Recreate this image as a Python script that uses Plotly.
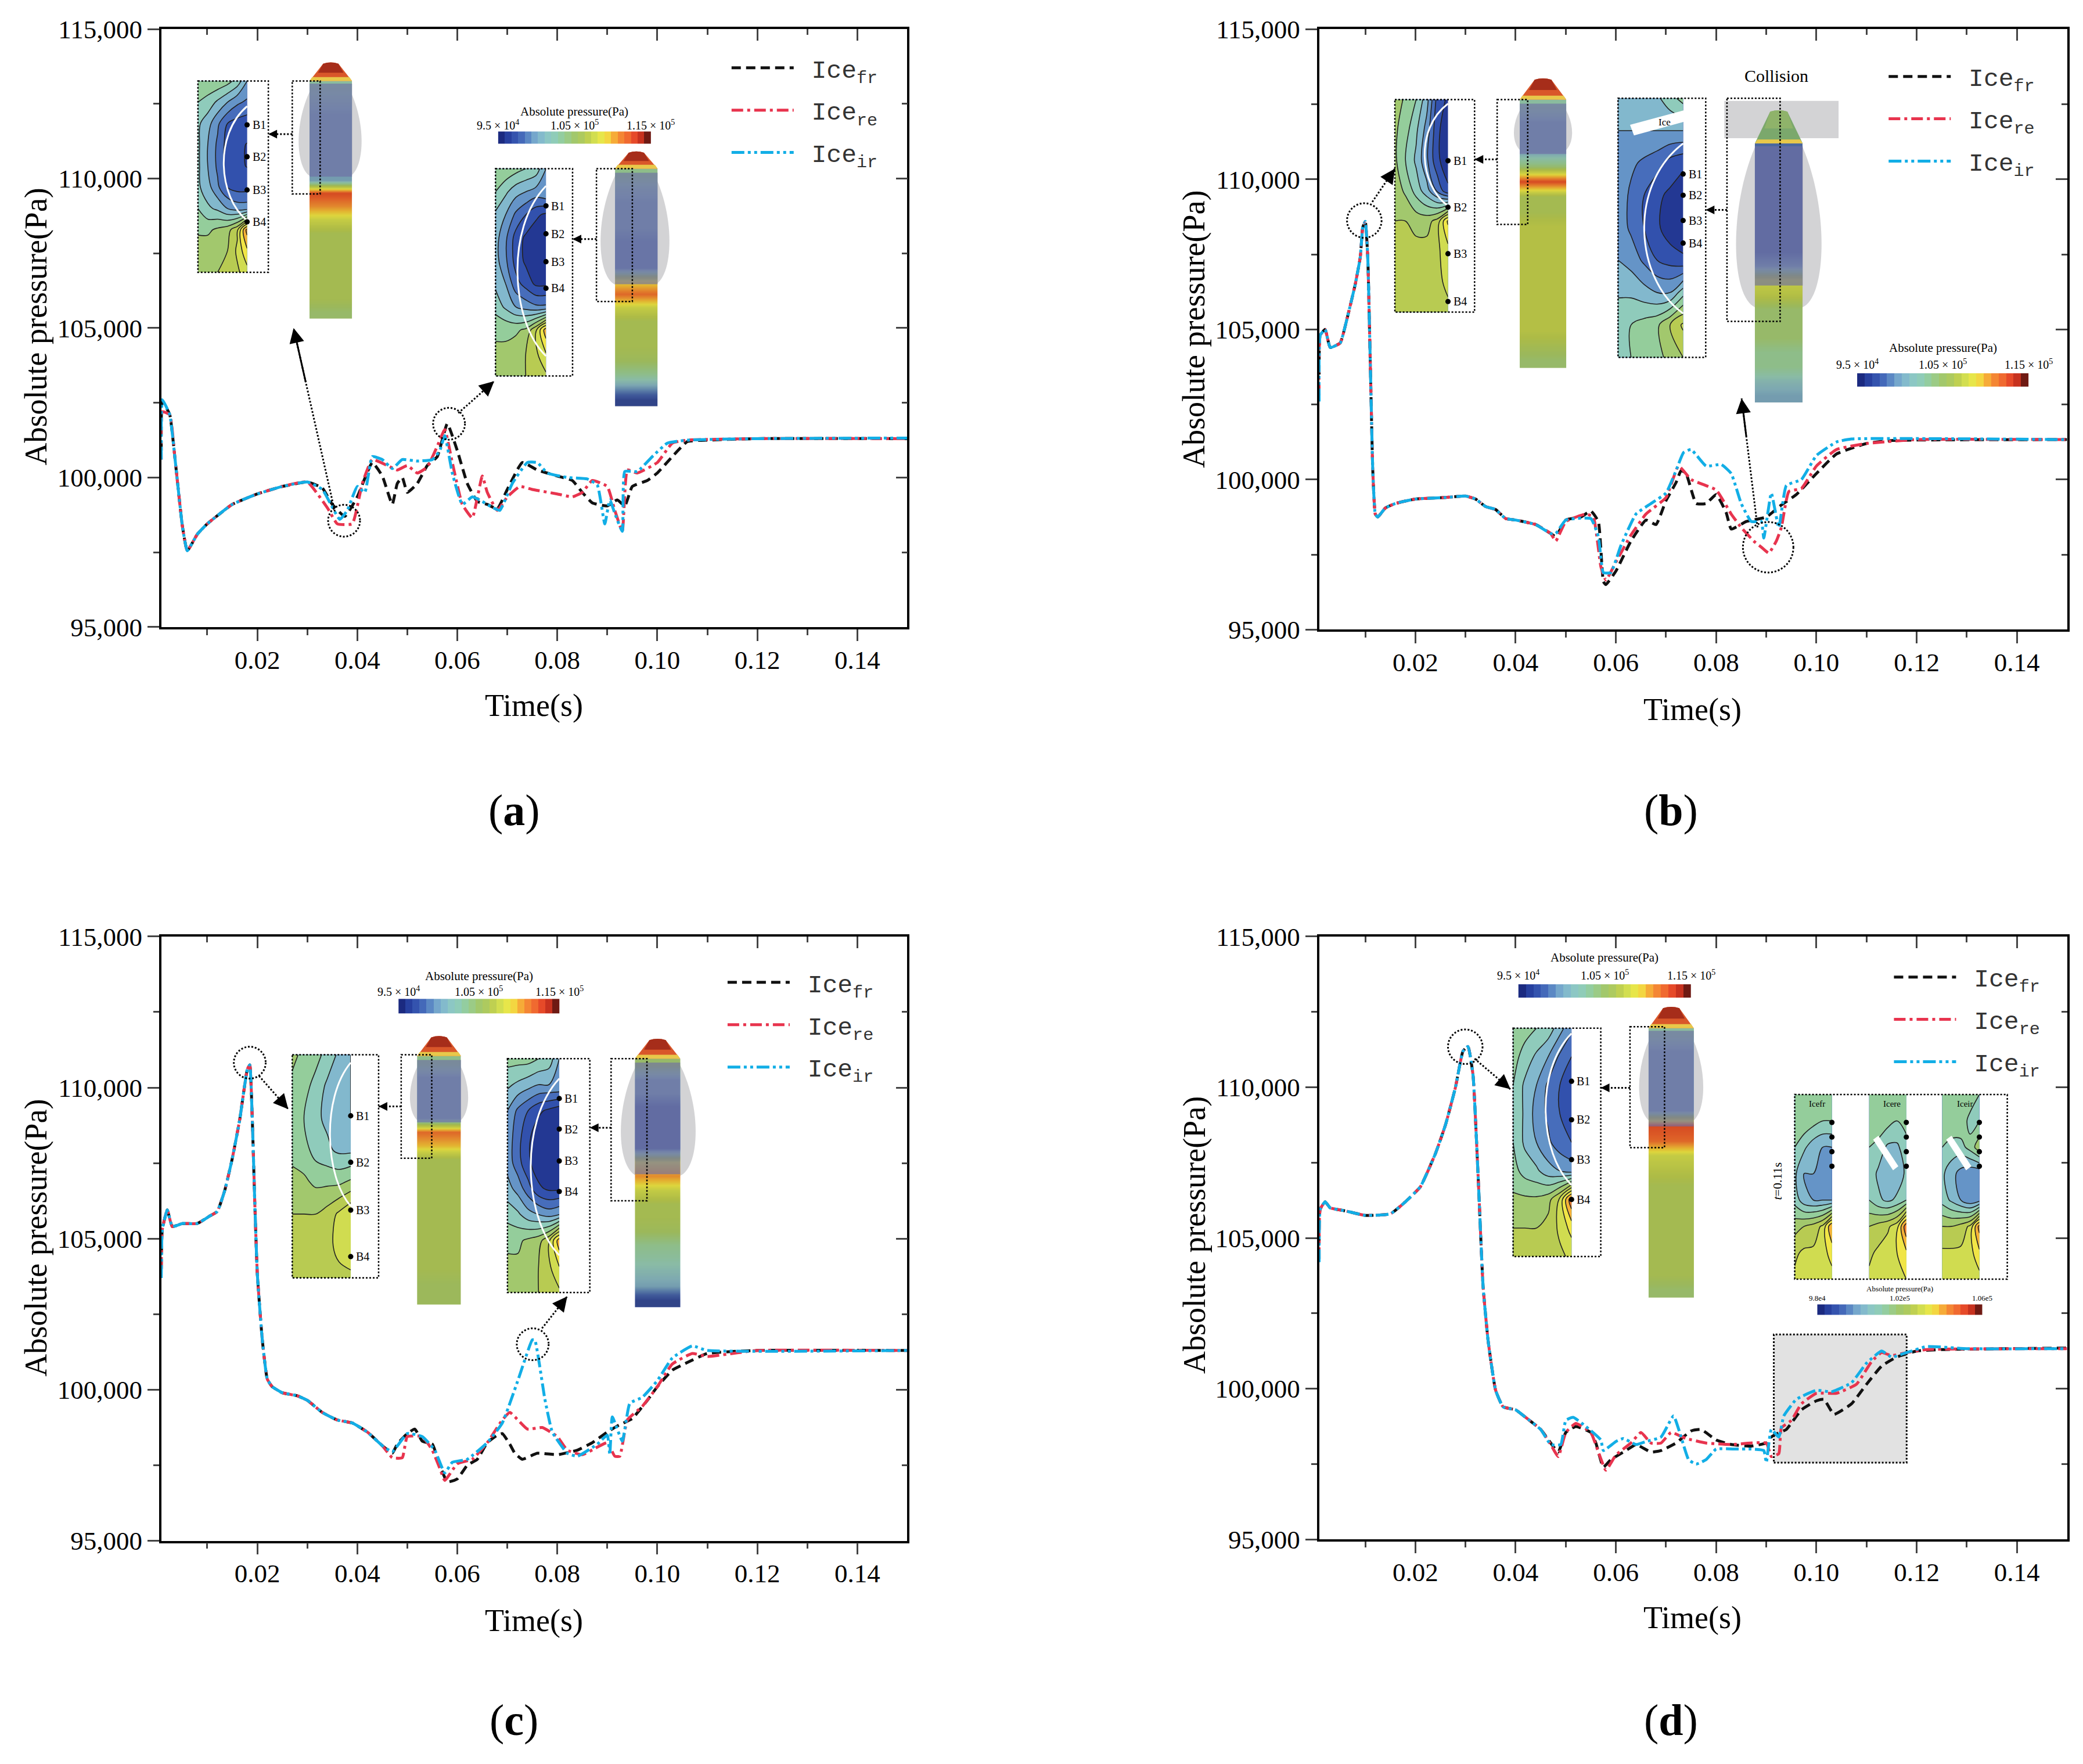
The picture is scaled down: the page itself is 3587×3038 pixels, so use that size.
import numpy as np
import plotly.graph_objects as go

W, H = 3587, 3038
SHEET_W, SHEET_H = 1568, 1328
SERIF = "Liberation Serif"
COLORS = {"fr": "#111111", "re": "#e8344e", "ir": "#12aee6"}
DASHES = {"fr": "16px,9px", "re": "20px,7px,5px,7px", "ir": "22px,6px,5px,6px,5px,6px"}

# ---- curves: time in s, pressure in kPa
a_head_t = [0.0025, 0.0035, 0.005, 0.006, 0.008, 0.01, 0.015, 0.02, 0.025, 0.03]
a_head_p = [102.1, 100.7, 98.4, 97.55, 98.1, 98.45, 99.1, 99.45, 99.7, 99.85]
a_fr_t = [0.0008, 0.001] + a_head_t + [0.033, 0.035, 0.0375, 0.04, 0.043, 0.045, 0.047, 0.048, 0.049, 0.05, 0.052, 0.054, 0.056, 0.058, 0.06, 0.062, 0.064, 0.066, 0.068, 0.07, 0.073, 0.076, 0.08, 0.083, 0.085, 0.087, 0.09, 0.092, 0.0935, 0.095, 0.098, 0.1, 0.103, 0.106, 0.11, 0.12, 0.15]
a_fr_p = [100.9, 102.55] + a_head_p + [99.65, 99.1, 98.7, 99.35, 100.5, 100.05, 99.1, 99.8, 100.0, 99.5, 99.8, 100.4, 100.7, 101.8, 100.9, 99.8, 99.2, 99.1, 98.95, 99.6, 100.5, 100.25, 100.05, 99.9, 99.5, 99.15, 99.05, 99.25, 99.05, 99.7, 99.9, 100.15, 100.7, 101.2, 101.25, 101.3, 101.3]
a_re_t = [0.0008, 0.001] + a_head_t + [0.034, 0.036, 0.039, 0.041, 0.043, 0.046, 0.048, 0.05, 0.052, 0.054, 0.056, 0.0575, 0.059, 0.061, 0.063, 0.065, 0.066, 0.068, 0.07, 0.0725, 0.075, 0.08, 0.083, 0.085, 0.087, 0.09, 0.0915, 0.093, 0.094, 0.096, 0.1, 0.103, 0.106, 0.12, 0.15]
a_re_p = [100.6, 102.2] + a_head_p + [98.99, 98.45, 98.45, 99.8, 100.6, 100.4, 100.25, 100.4, 100.15, 100.35, 101.05, 101.6, 100.5, 99.1, 98.65, 100.05, 99.5, 98.9, 99.35, 99.7, 99.6, 99.45, 99.35, 99.5, 99.9, 99.7, 98.9, 98.2, 100.25, 100.15, 100.5, 101.15, 101.25, 101.3, 101.3]
a_ir_t = [0.0008, 0.001] + a_head_t + [0.033, 0.0365, 0.038, 0.04, 0.0415, 0.043, 0.045, 0.047, 0.049, 0.052, 0.055, 0.0565, 0.0575, 0.059, 0.061, 0.063, 0.065, 0.067, 0.0685, 0.071, 0.074, 0.076, 0.078, 0.082, 0.086, 0.088, 0.0895, 0.0905, 0.0915, 0.093, 0.0935, 0.096, 0.099, 0.102, 0.106, 0.12, 0.15]
a_ir_p = [100.6, 102.6] + a_head_p + [99.6, 98.6, 98.9, 99.7, 99.5, 100.7, 100.6, 100.3, 100.6, 100.55, 100.6, 100.9, 101.4, 100.15, 99.1, 99.35, 99.2, 99.0, 98.9, 99.8, 100.5, 100.5, 100.15, 100.0, 99.95, 99.75, 98.45, 99.25, 98.8, 98.2, 100.2, 100.2, 100.7, 101.15, 101.25, 101.3, 101.32]

b_head_t = [0.001, 0.002, 0.003, 0.005, 0.0065, 0.008, 0.009, 0.0095, 0.01, 0.0105, 0.011, 0.0115, 0.012, 0.0125, 0.014, 0.016, 0.02, 0.026, 0.03, 0.032, 0.034, 0.036, 0.038, 0.04, 0.044, 0.047]
b_head_p = [104.8, 105.0, 104.4, 104.55, 105.45, 106.5, 107.4, 108.4, 108.6, 107.4, 103.9, 100.3, 98.85, 98.75, 99.05, 99.2, 99.35, 99.4, 99.45, 99.35, 99.1, 99.0, 98.7, 98.65, 98.5, 98.2]
b_fr_t = [0.0008] + b_head_t + [0.048, 0.05, 0.053, 0.055, 0.0565, 0.0575, 0.058, 0.06, 0.063, 0.066, 0.068, 0.07, 0.072, 0.073, 0.074, 0.076, 0.078, 0.08, 0.082, 0.083, 0.086, 0.09, 0.093, 0.096, 0.1, 0.104, 0.11, 0.115, 0.15]
b_fr_p = [103.5] + b_head_p + [98.1, 98.65, 98.75, 98.95, 98.6, 96.6, 96.5, 96.95, 97.95, 98.65, 98.5, 99.3, 99.9, 100.3, 100.2, 99.2, 99.2, 99.5, 98.9, 98.35, 98.6, 98.75, 99.15, 99.5, 100.2, 100.85, 101.2, 101.3, 101.33]
b_re_t = [0.0008] + b_head_t + [0.048, 0.05, 0.054, 0.0555, 0.057, 0.058, 0.06, 0.063, 0.066, 0.07, 0.0725, 0.075, 0.08, 0.083, 0.085, 0.0875, 0.089, 0.0905, 0.092, 0.093, 0.0945, 0.097, 0.1, 0.104, 0.11, 0.12, 0.15]
b_re_p = [102.8] + b_head_p + [97.95, 98.6, 98.85, 98.75, 97.1, 96.65, 97.25, 98.15, 98.85, 99.4, 100.45, 100.0, 99.65, 98.85, 98.4, 97.95, 97.75, 97.55, 97.95, 98.4, 99.6, 99.7, 100.45, 101.0, 101.2, 101.33, 101.33]
b_ir_t = [0.0008] + b_head_t + [0.048, 0.05, 0.055, 0.0565, 0.0575, 0.059, 0.061, 0.064, 0.067, 0.07, 0.072, 0.0735, 0.075, 0.078, 0.081, 0.083, 0.085, 0.087, 0.089, 0.0895, 0.091, 0.0925, 0.094, 0.097, 0.1, 0.104, 0.107, 0.15]
b_ir_p = [102.6] + b_head_p + [98.2, 98.65, 98.7, 98.1, 96.9, 96.9, 97.8, 98.85, 99.2, 99.55, 100.3, 100.9, 101.0, 100.45, 100.5, 100.2, 99.2, 98.6, 98.6, 98.05, 99.55, 98.4, 99.8, 100.0, 100.8, 101.25, 101.35, 101.33]

c_head_t = [0.001, 0.002, 0.003, 0.005, 0.008, 0.0105, 0.012, 0.0135, 0.015, 0.0165, 0.018, 0.0185, 0.019, 0.0195, 0.02, 0.021, 0.022, 0.023, 0.025, 0.028, 0.03, 0.033, 0.036, 0.039, 0.042, 0.045]
c_head_p = [105.3, 105.95, 105.4, 105.5, 105.5, 105.75, 105.9, 106.6, 107.65, 108.95, 110.6, 110.75, 108.95, 106.2, 103.85, 101.65, 100.35, 100.1, 99.9, 99.8, 99.65, 99.25, 99.0, 98.9, 98.6, 98.15]
c_fr_t = [0.0008] + c_head_t + [0.047, 0.048, 0.05, 0.0515, 0.053, 0.055, 0.0565, 0.058, 0.06, 0.062, 0.064, 0.066, 0.068, 0.069, 0.0705, 0.0715, 0.073, 0.076, 0.08, 0.084, 0.087, 0.09, 0.092, 0.095, 0.098, 0.1, 0.103, 0.106, 0.11, 0.12, 0.15]
c_fr_p = [104.0] + c_head_p + [97.9, 98.2, 98.55, 98.7, 98.3, 98.2, 97.5, 96.95, 97.05, 97.5, 97.7, 98.25, 98.5, 98.55, 98.2, 97.9, 97.7, 97.9, 97.85, 98.0, 98.25, 98.6, 98.8, 99.05, 99.65, 100.1, 100.65, 100.9, 101.2, 101.3, 101.3]
c_re_t = [0.0008] + c_head_t + [0.047, 0.049, 0.05, 0.053, 0.055, 0.0565, 0.0575, 0.06, 0.063, 0.066, 0.069, 0.0705, 0.074, 0.077, 0.08, 0.082, 0.085, 0.088, 0.09, 0.0915, 0.0925, 0.094, 0.097, 0.1, 0.103, 0.107, 0.11, 0.115, 0.12, 0.15]
c_re_p = [104.0] + c_head_p + [97.75, 97.75, 98.45, 98.45, 98.0, 97.4, 97.0, 97.55, 97.7, 98.25, 99.0, 99.25, 98.7, 98.75, 98.45, 98.0, 97.85, 98.1, 98.25, 97.8, 97.8, 99.0, 99.45, 100.1, 100.85, 101.2, 101.1, 101.2, 101.3, 101.3]
c_ir_t = [0.0008] + c_head_t + [0.047, 0.05, 0.053, 0.0555, 0.0575, 0.059, 0.062, 0.066, 0.069, 0.072, 0.075, 0.0755, 0.0775, 0.079, 0.082, 0.084, 0.088, 0.09, 0.0905, 0.091, 0.093, 0.0945, 0.097, 0.1, 0.103, 0.107, 0.11, 0.15]
c_ir_p = [103.7] + c_head_p + [97.95, 98.55, 98.45, 98.0, 97.25, 97.6, 97.7, 98.25, 98.9, 100.25, 101.65, 101.65, 99.7, 98.6, 97.9, 97.8, 98.2, 98.5, 97.85, 99.1, 98.3, 99.55, 99.75, 100.3, 101.05, 101.45, 101.3, 101.3]

d_head_t = [0.001, 0.002, 0.003, 0.006, 0.01, 0.015, 0.018, 0.021, 0.024, 0.026, 0.028, 0.0295, 0.0305, 0.0315, 0.0325, 0.0335, 0.0345, 0.036, 0.0375, 0.04, 0.042, 0.045]
d_head_p = [105.95, 106.2, 106.0, 105.9, 105.75, 105.8, 106.2, 106.7, 107.8, 108.75, 110.0, 111.2, 111.35, 110.4, 107.1, 103.4, 101.6, 99.95, 99.4, 99.3, 99.05, 98.65]
d_fr_t = [0.0008] + d_head_t + [0.047, 0.0485, 0.05, 0.052, 0.055, 0.056, 0.0575, 0.059, 0.062, 0.064, 0.067, 0.069, 0.072, 0.075, 0.077, 0.08, 0.083, 0.087, 0.09, 0.091, 0.092, 0.094, 0.097, 0.1, 0.1015, 0.1035, 0.107, 0.11, 0.113, 0.116, 0.12, 0.125, 0.15]
d_fr_p = [104.3] + d_head_p + [98.2, 97.9, 98.55, 98.75, 98.55, 98.2, 97.4, 97.65, 97.95, 98.15, 97.9, 97.95, 98.2, 98.6, 98.65, 98.3, 98.15, 98.1, 98.2, 98.4, 98.5, 98.65, 99.3, 99.6, 99.65, 99.15, 99.5, 100.15, 100.75, 101.05, 101.25, 101.3, 101.35]
d_re_t = [0.0008] + d_head_t + [0.047, 0.0485, 0.05, 0.052, 0.055, 0.0565, 0.058, 0.06, 0.063, 0.065, 0.067, 0.069, 0.071, 0.074, 0.078, 0.083, 0.09, 0.091, 0.0925, 0.093, 0.095, 0.097, 0.1, 0.104, 0.108, 0.111, 0.113, 0.115, 0.118, 0.122, 0.15]
d_re_p = [104.3] + d_head_p + [98.15, 97.75, 98.55, 98.85, 98.55, 97.9, 97.3, 97.8, 98.2, 98.55, 98.2, 98.2, 98.55, 98.35, 98.2, 98.15, 98.2, 97.75, 97.85, 98.7, 98.95, 99.5, 99.85, 99.85, 100.15, 100.9, 101.2, 101.1, 101.2, 101.3, 101.33]
d_ir_t = [0.0008] + d_head_t + [0.047, 0.049, 0.05, 0.0515, 0.054, 0.057, 0.0575, 0.06, 0.0615, 0.064, 0.066, 0.069, 0.0715, 0.073, 0.0745, 0.076, 0.078, 0.08, 0.084, 0.087, 0.0895, 0.09, 0.091, 0.0925, 0.0935, 0.096, 0.1, 0.103, 0.107, 0.11, 0.113, 0.115, 0.118, 0.122, 0.13, 0.15]
d_ir_p = [104.2] + d_head_p + [98.15, 98.15, 98.95, 99.05, 98.75, 98.3, 97.95, 98.25, 98.35, 98.15, 98.25, 98.4, 99.1, 98.4, 97.65, 97.5, 97.65, 98.0, 98.0, 98.0, 97.95, 97.55, 98.65, 98.4, 99.1, 99.65, 99.95, 99.9, 100.2, 100.85, 101.25, 101.05, 101.2, 101.4, 101.33, 101.33]

curves = {
    1: {"fr": (a_fr_t, a_fr_p), "re": (a_re_t, a_re_p), "ir": (a_ir_t, a_ir_p)},
    2: {"fr": (b_fr_t, b_fr_p), "re": (b_re_t, b_re_p), "ir": (b_ir_t, b_ir_p)},
    3: {"fr": (c_fr_t, c_fr_p), "re": (c_re_t, c_re_p), "ir": (c_ir_t, c_ir_p)},
    4: {"fr": (d_fr_t, d_fr_p), "re": (d_re_t, d_re_p), "ir": (d_ir_t, d_ir_p)},
}

x_ticks = [0.02, 0.04, 0.06, 0.08, 0.10, 0.12, 0.14]
x_minor = [0.01, 0.03, 0.05, 0.07, 0.09, 0.11, 0.13]
y_ticks = [95000, 100000, 105000, 110000, 115000]
y_minor = [97500, 102500, 107500, 112500]

# inset contour fields, kPa, top row first, outer side on the left
field_a1 = [[103.5, 103.5, 103.5, 103, 102, 100], [102.5, 102, 101, 100, 99, 98.5], [101.5, 100.5, 99, 97.5, 97, 96.8], [101.5, 100, 98.5, 97, 96.5, 96.2], [101.5, 100, 98.5, 97, 96.5, 96.2], [101.5, 100.5, 99, 97.5, 97, 97], [102.5, 101.5, 101, 100, 99.5, 99.5], [103.5, 103.5, 104, 104.5, 106, 110.5], [104.5, 104.5, 105, 105, 106.5, 108.5], [105, 105, 105, 105.5, 106, 107]]
field_a2 = [[103.5, 103.5, 103, 102.5, 102, 100], [102.5, 101.5, 100.5, 100, 99.5, 100], [101, 100, 98.5, 97.5, 96.5, 96], [100.5, 99, 97, 96, 95.5, 95.3], [100.5, 99, 97, 96, 95.5, 95.3], [101, 100, 98, 97, 96, 96], [102, 101, 100, 99.5, 99, 99], [103.5, 103.5, 103.5, 104, 106, 109.5], [104, 104, 104.5, 105, 106, 107.5], [104.5, 104.5, 104.5, 105, 105.5, 106]]
field_b1 = [[104.5, 103.5, 102.5, 100.5, 97, 96], [104, 103, 101.5, 99.5, 96.5, 95.5], [104, 102.5, 101, 99, 96.5, 95.5], [104.5, 103.5, 102, 100.5, 98.5, 96.5], [105, 105, 104.5, 104.5, 105.5, 109], [105.5, 105.5, 105.5, 105.5, 106, 107], [106, 106, 106, 106, 106, 106.5], [106, 106, 106, 106, 106, 106]]
field_b2 = [[100.5, 100.5, 100.5, 101, 102, 103], [100, 100, 100, 100, 100, 100], [99.5, 99, 98.5, 98, 97, 96.5], [99.5, 98.5, 97.5, 96.5, 96, 95.5], [99.5, 98.5, 97.5, 96.5, 95.5, 95.3], [100, 99.5, 98.5, 97.5, 97, 96.5], [101, 101, 100.5, 100, 100, 102], [102.5, 102.5, 103, 103.5, 105, 106.5], [102.5, 102.5, 103, 103.5, 104, 105]]
field_c1 = [[104, 103.5, 103, 102, 101, 100], [103.5, 103, 102, 101, 100.5, 100], [103.5, 102.5, 101.5, 101, 100.5, 100], [103.5, 103, 102, 101.5, 101, 101], [104, 104, 103.5, 103.5, 103.5, 104], [105, 105, 105, 105.5, 106.5, 107.5], [105.5, 105.5, 105.5, 106, 106.5, 107], [105.5, 105.5, 105.5, 105.5, 106, 106]]
field_c2 = [[103, 103, 103, 102.5, 102, 100], [101.5, 101, 100.5, 100, 100, 100], [100, 98.5, 97.5, 96.5, 96, 95.5], [99.5, 98, 96.5, 95.5, 95.2, 95.2], [99.5, 98, 96.5, 95.5, 95.2, 95.2], [100.5, 99.5, 98, 96.5, 96, 96], [102, 101.5, 100.5, 100, 99.5, 100], [103.5, 103.5, 104, 104.5, 106, 109.5], [104, 104, 104, 105, 106, 107.5], [104.5, 104.5, 104.5, 105, 105.5, 106]]
field_d1 = [[103.5, 103, 102.5, 102, 100.5, 99], [103, 102, 101, 100, 98.5, 97.5], [102.5, 101, 100, 98.5, 97.5, 97.2], [102.5, 101, 99.5, 98.5, 97.5, 97.2], [102.5, 101, 100, 99, 98, 97.5], [103, 102, 101.5, 100.5, 100, 99.5], [104, 104, 104, 104.5, 106.5, 111], [105, 105, 105, 105.5, 106.5, 108], [105.5, 105.5, 105.5, 106, 106, 106.5]]
field_d_fr = [[103.5, 103.5, 103.5, 103.5, 103.5], [103.5, 103.5, 103, 102.5, 102.5], [102.5, 101.5, 100.5, 100, 100], [101.5, 100, 100, 99.5, 99], [102, 100.5, 100, 100, 100], [104.5, 105, 105.5, 106.5, 110], [106, 106.5, 106.5, 107, 108], [106.5, 106.5, 106.5, 107, 107]]
field_d_re = [[103.5, 103.5, 103.5, 103.5, 103.5], [103.5, 103.5, 103, 102.5, 103], [102.5, 102, 101, 101, 102], [102, 101, 100.5, 100.5, 101.5], [102.5, 101.5, 101, 101.5, 102.5], [105, 105.5, 106, 107, 111], [106, 106.5, 107, 107.5, 108.5], [106.5, 106.5, 107, 107, 107.5]]
field_d_ir = [[103.5, 103.5, 103.5, 103.5, 102.5], [103.5, 103.5, 103.5, 102, 102.5], [102.5, 102, 102, 103, 104.5], [101.5, 100.5, 99.5, 99, 99], [102, 101, 100, 99, 99.5], [105, 105, 105.5, 106.5, 110.5], [106.5, 106.5, 106.5, 107, 108.5], [106.5, 106.5, 107, 107, 107]]

# rocket body pressure bands, kPa, top to bottom
rocket_a1 = [102, 101, 100, 100, 100, 100, 100, 100, 112, 110, 107, 105, 105, 105, 105, 105, 105, 104]
rocket_a2 = [103, 101, 100, 100, 100, 99, 99, 99, 108, 111, 107, 105, 105, 105, 104.5, 103, 100, 96]
rocket_b1 = [102, 100, 100, 100, 104, 112, 105, 105, 106, 106, 106, 106, 106, 106, 106, 106, 105, 104]
rocket_b2 = [98, 98, 98, 98, 98, 98, 98, 98, 100, 107, 106, 104, 104, 104, 103, 103, 101, 100]
rocket_c1 = [103, 100, 100, 100, 100, 111, 109, 105, 105, 105, 105, 105, 105, 105, 105, 105, 104.5, 104.5]
rocket_c2 = [104, 100, 100, 98, 98, 98, 98, 108, 110, 107, 105, 105, 104.5, 103, 102, 101, 100, 96]
rocket_d1 = [102, 100, 100, 100, 100, 100, 112, 111, 107, 106, 105, 105, 105, 105, 105, 105, 105, 104]

pressure_levels = [95, 96, 97, 98, 99, 100, 100.7, 101.4, 102, 103, 103.7, 104.4, 105, 106, 107, 107.7, 108.5, 109.5, 110.3, 111, 112, 113, 114.4]

pressure_scale = [
    [0.0, "#1b2a80"], [0.06, "#2a45a5"], [0.13, "#3b5db5"], [0.2, "#5b88c4"], [0.27, "#7fb4cf"],
    [0.33, "#8ecbc2"], [0.4, "#93cda0"], [0.47, "#a2c86c"], [0.53, "#b8cb52"], [0.6, "#d2de50"],
    [0.65, "#f0ea48"], [0.7, "#f6c23a"], [0.76, "#f58a35"], [0.82, "#ee5a2d"], [0.88, "#dd3a24"],
    [0.94, "#9a2216"], [1.0, "#451211"],
]

fig = go.Figure()
panel_dom = {
    1: ([121.4, 683], [21.9, 472]),
    2: ([993, 1556], [22, 474]),
    3: ([121.4, 683], [705, 1160]),
    4: ([993, 1556], [705, 1159]),
}
legend_pos = {1: (548.5, 36), 2: (1419.5, 42.5), 3: (545.5, 724.5), 4: (1423.5, 720.5)}
titles = {
    1: ((402, 531), (27, 246)),
    2: ((1274, 534), (899, 248)),
    3: ((402, 1220), (27, 932)),
    4: ((1274, 1218), (899, 930)),
}
panel_tags = {1: ("a", 387, 610), 2: ("b", 1258, 610), 3: ("c", 387, 1295), 4: ("d", 1258, 1295)}
tick_style = dict(ticklen=20, tickwidth=3, showline=True, linewidth=3.5, linecolor="black", showgrid=False, zeroline=False)
tick_font = dict(family=SERIF, size=45, color="black")

layout_extra = {}
for i, (dx, dy) in panel_dom.items():
    xdom = [dx[0] / SHEET_W, dx[1] / SHEET_W]
    ydom = [1 - dy[1] / SHEET_H, 1 - dy[0] / SHEET_H]
    suffix = "" if i == 1 else str(i)
    for key in ("fr", "re", "ir"):
        t, p = curves[i][key]
        fig.add_trace(go.Scatter(
            x=t, y=[v * 1000 for v in p], mode="lines", name="\u00a0Ice<sub>" + key + "</sub>",
            line=dict(color=COLORS[key], width=5, dash=DASHES[key], shape="spline", smoothing=0.4),
            xaxis="x" + suffix, yaxis="y" + suffix, legend="legend" + suffix, legendgroup=str(i) + key,
        ))
    layout_extra["xaxis" + suffix] = dict(
        domain=xdom, range=[0.0008, 0.15], anchor="y" + suffix, tickvals=x_ticks, tickformat=".2f",
        ticks="outside", tickfont=tick_font, ticklabelstandoff=-6,
        minor=dict(tickvals=x_minor, ticks="outside", ticklen=10, tickwidth=3, showgrid=False), **tick_style,
    )
    layout_extra["yaxis" + suffix] = dict(
        domain=ydom, range=[95000, 115000], anchor="x" + suffix, tickvals=y_ticks, tickformat=",d",
        ticks="outside", tickfont=tick_font,
        minor=dict(tickvals=y_minor, ticks="outside", ticklen=10, tickwidth=3, showgrid=False), **tick_style,
    )
    # top and right frame with ticks pointing in, like Origin draws them
    top, right = str(i + 4), str(i + 4)
    layout_extra["xaxis" + top] = dict(
        overlaying="x" + suffix, side="top", anchor="y" + right, range=[0.0008, 0.15], tickvals=x_ticks,
        ticks="inside", showticklabels=False,
        minor=dict(tickvals=x_minor, ticks="inside", ticklen=10, tickwidth=3), **tick_style,
    )
    layout_extra["yaxis" + right] = dict(
        overlaying="y" + suffix, side="right", anchor="x" + top, range=[95000, 115000], tickvals=y_ticks,
        ticks="inside", showticklabels=False,
        minor=dict(tickvals=y_minor, ticks="inside", ticklen=10, tickwidth=3), **tick_style,
    )
    fig.add_trace(go.Scatter(x=[None], y=[None], xaxis="x" + top, yaxis="y" + right, showlegend=False, hoverinfo="skip"))
    lx, ly = legend_pos[i]
    layout_extra["legend" + suffix] = dict(
        x=lx / SHEET_W, y=1 - ly / SHEET_H, xanchor="left", yanchor="top", bgcolor="rgba(0,0,0,0)",
        font=dict(family="Liberation Mono", size=43, color="#333333"), itemwidth=107, itemclick=False,
        tracegroupgap=14,
    )

# sheet axes over the whole page, used for the inset drawings only
layout_extra["xaxis9"] = dict(domain=[0, 1], range=[0, SHEET_W], visible=False, anchor="y9", fixedrange=True)
layout_extra["yaxis9"] = dict(domain=[0, 1], range=[SHEET_H, 0], visible=False, anchor="x9", fixedrange=True)

shapes = []
notes = []


def box(x0, y0, x1, y1):
    shapes.append(dict(type="rect", xref="x9", yref="y9", x0=x0, y0=y0, x1=x1, y1=y1,
                       line=dict(color="black", width=2.5, dash="dot"), layer="above"))


def text(x, y, s, size=20, angle=0, family=SERIF, color="black"):
    notes.append(dict(xref="x9", yref="y9", x=x, y=y, text=s, showarrow=False, textangle=angle,
                      font=dict(family=family, size=size, color=color)))


def arrow(x0, y0, x1, y1, big=True):
    shapes.append(dict(type="line", xref="x9", yref="y9", x0=x0, y0=y0, x1=x1, y1=y1,
                       line=dict(color="black", width=3, dash="dot"), layer="above"))
    notes.append(dict(xref="x9", yref="y9", axref="x9", ayref="y9", x=x1, y=y1,
                      ax=x1 + (x0 - x1) * 0.3, ay=y1 + (y0 - y1) * 0.3, text="", showarrow=True,
                      arrowhead=2, arrowsize=1.7 if big else 1, arrowwidth=3, arrowcolor="black", standoff=0))


def circle(x, y, r):
    shapes.append(dict(type="circle", xref="x9", yref="y9", x0=x - r, y0=y - r, x1=x + r, y1=y + r,
                       line=dict(color="black", width=3, dash="dot"), layer="above"))


def field(z, x0, y0, x1, y1):
    z = np.array(z)
    fig.add_trace(go.Contour(
        z=z, x=np.linspace(x0, x1, z.shape[1]), y=np.linspace(y0, y1, z.shape[0]),
        xaxis="x9", yaxis="y9", zmin=95, zmax=115, colorscale=pressure_scale, showscale=False,
        contours=dict(start=95, end=115, size=1.25, coloring="fill"),
        line=dict(color="#222222", width=1.6, smoothing=1), hoverinfo="skip", showlegend=False,
    ))


def lobe(x1, y0, y1, depth):
    # white outline of the cavity against the wall
    ym = (y0 + y1) / 2
    path = f"M {x1} {y0} C {x1 - depth * 1.4} {ym - (y1 - y0) * 0.25} {x1 - depth * 1.2} {ym + (y1 - y0) * 0.3} {x1} {y1}"
    shapes.append(dict(type="path", xref="x9", yref="y9", path=path, line=dict(color="white", width=3), layer="above"))


def wall_points(x, ys, labels=True):
    for k, y in enumerate(ys):
        shapes.append(dict(type="circle", xref="x9", yref="y9", x0=x - 2, x1=x + 2, y0=y - 2, y1=y + 2,
                           fillcolor="black", line=dict(width=0), layer="above"))
        if labels:
            text(x + 9, y, "B" + str(k + 1), size=20)


def rocket(bands, x0, x1, tip, top, bottom, mask_y0, mask_y1, sil, nose=("#d9572a", "#a62d1a")):
    # sil = silhouette of the ice cloud behind the body
    sx0, sy0, sx1, sy1 = sil
    w = sx1 - sx0
    shapes.append(dict(type="path", xref="x9", yref="y9", layer="below", fillcolor="rgba(175,175,178,0.55)", line=dict(width=0),
                       path=f"M {sx0 + w * 0.28} {sy0} C {sx0 - w * 0.05} {sy0 + (sy1 - sy0) * 0.4} {sx0} {sy1} {sx0 + w * 0.3} {sy1} L {sx1 - w * 0.3} {sy1} C {sx1} {sy1} {sx1 + w * 0.05} {sy0 + (sy1 - sy0) * 0.4} {sx1 - w * 0.28} {sy0} Z"))
    z = [[b, b] for b in bands]
    band_h = (bottom - top) / len(bands)
    cell_w = (x1 - x0) / 2
    fig.add_trace(go.Heatmap(z=z, x=[x0 + cell_w / 2, x1 - cell_w / 2],
                             y=np.linspace(top + band_h / 2, bottom - band_h / 2, len(bands)), xaxis="x9", yaxis="y9",
                             zmin=95, zmax=115, colorscale=pressure_scale, zsmooth="best", showscale=False,
                             hoverinfo="skip", showlegend=False))
    # duller shading of the lit body
    shapes.append(dict(type="rect", xref="x9", yref="y9", x0=x0, x1=x1, y0=top, y1=bottom, layer="above",
                       fillcolor="rgba(110,90,0,0.14)", line=dict(width=0)))
    # nose cone, darker towards the tip
    mid = (x0 + x1) / 2
    w_body = x1 - x0
    shapes.append(dict(type="path", xref="x9", yref="y9", layer="above", line=dict(width=0), fillcolor=nose[0],
                       path=f"M {x0} {top} L {mid - w_body * 0.18} {tip + 1} Q {mid} {tip - 1} {mid + w_body * 0.18} {tip + 1} L {x1} {top} Z"))
    shapes.append(dict(type="path", xref="x9", yref="y9", layer="above", line=dict(width=0), fillcolor=nose[1],
                       path=f"M {x0 + w_body * 0.2} {tip + (top - tip) * 0.55} L {mid - w_body * 0.18} {tip + 1} Q {mid} {tip - 1} {mid + w_body * 0.18} {tip + 1} L {x1 - w_body * 0.2} {tip + (top - tip) * 0.55} Z"))
    shapes.append(dict(type="path", xref="x9", yref="y9", layer="above", line=dict(width=0), fillcolor="#e8c84a",
                       path=f"M {x0} {top} L {x0 + 2} {top - 3} L {x1 - 2} {top - 3} L {x1} {top} Z"))
    # ice over the body
    shapes.append(dict(type="rect", xref="x9", yref="y9", x0=x0, x1=x1, y0=mask_y0, y1=mask_y1, layer="above",
                       fillcolor="rgba(110,110,165,0.65)", line=dict(width=0)))


def color_bar(x0, x1, y0, y1, title, title_y, labels, label_y, label_size=20, title_size=21):
    levels = pressure_levels
    n_levels = len(levels)
    cell = (x1 - x0) / n_levels
    h = (y1 - y0) / 4
    fig.add_trace(go.Heatmap(z=[levels, levels], x=np.linspace(x0 + cell / 2, x1 - cell / 2, n_levels), y=[y0 + h, y1 - h],
                             xaxis="x9", yaxis="y9", zmin=95, zmax=115, colorscale=pressure_scale,
                             showscale=False, hoverinfo="skip", showlegend=False))
    text((x0 + x1) / 2, title_y, title, size=title_size)
    n = len(labels)
    for k, s in enumerate(labels):
        text(x0 + (x1 - x0) * k / (n - 1), label_y, s, size=label_size)


bar_title = "Absolute pressure(Pa)"
bar_labels = ["9.5 × 10<sup>4</sup>", "1.05 × 10<sup>5</sup>", "1.15 × 10<sup>5</sup>"]

# panel a
field(field_a1, 149, 61, 186, 205)
box(149, 61, 202, 205)
lobe(186, 80, 166, 18)
wall_points(186, [94, 118, 143, 167])
rocket(rocket_a1, 233, 265, 47, 61, 240, 63, 133, (222, 62, 275, 134))
box(220, 61, 241, 146)
arrow(220, 101, 202, 101, big=False)
arrow(252, 385, 221, 247)
circle(259, 392, 12)

field(field_a2, 373, 127, 411, 283)
box(373, 127, 431, 283)
lobe(411, 140, 268, 22)
wall_points(411, [155, 176, 197, 217])
rocket(rocket_a2, 463, 495, 114, 127, 306, 130, 214, (449, 128, 507, 215))
box(449, 127, 476, 227)
arrow(449, 180, 431, 180, big=False)
arrow(345, 311, 372, 287)
circle(338, 319, 12)
color_bar(375, 490, 99, 108, bar_title, 84, bar_labels, 94)

# panel b
field(field_b1, 1050, 75, 1090, 235)
box(1050, 75, 1110, 235)
lobe(1090, 78, 155, 18)
wall_points(1090, [121, 156, 191, 227])
rocket(rocket_b1, 1144, 1179, 59, 75, 277, 78, 116, (1137, 74, 1186, 116))
box(1127, 75, 1150, 169)
arrow(1127, 120, 1110, 120, big=False)
arrow(1033, 152, 1050, 127)
circle(1027, 166, 13)

field(field_b2, 1218, 74, 1267, 269)
box(1218, 74, 1284, 269)
lobe(1267, 108, 236, 30)
wall_points(1267, [131, 147, 166, 183])
shapes.append(dict(type="path", xref="x9", yref="y9", layer="above", fillcolor="white", line=dict(width=0),
                   path="M 1227 94 L 1268 83 L 1270 91 L 1230 102 Z"))
text(1253, 92, "Ice", size=17)
rocket(rocket_b2, 1321, 1357, 83, 108, 303, 110, 215, (1303, 106, 1375, 232), nose=("#7ba86c", "#8fb36a"))
shapes.append(dict(type="rect", xref="x9", yref="y9", x0=1298, x1=1384, y0=76, y1=104, layer="below",
                   fillcolor="rgba(175,175,178,0.55)", line=dict(width=0)))
box(1300, 74, 1340, 242)
arrow(1300, 158, 1284, 158, big=False)
arrow(1323, 397, 1311, 300)
circle(1331, 412, 19)
text(1337, 57, "Collision", size=30)
color_bar(1398, 1527, 281, 291, bar_title, 262, bar_labels, 274)

# panel c
field(field_c1, 220, 794, 264, 962)
box(220, 794, 285, 962)
lobe(264, 800, 908, 16)
wall_points(264, [840, 875, 911, 946])
rocket(rocket_c1, 314, 347, 780, 795, 982, 798, 845, (306, 794, 355, 846))
box(302, 794, 325, 872)
arrow(302, 833, 285, 833, big=False)
arrow(195, 810, 217, 835)
circle(188, 800, 12)

field(field_c2, 382, 797, 421, 973)
box(382, 797, 444, 973)
lobe(421, 812, 945, 22)
wall_points(421, [827, 850, 874, 897])
rocket(rocket_c2, 478, 512, 782, 797, 984, 800, 884, (464, 797, 527, 886))
box(460, 797, 487, 904)
arrow(460, 849, 444, 849, big=False)
arrow(408, 1000, 427, 976)
circle(401, 1012, 12)
color_bar(300, 421, 752, 763, bar_title, 735, bar_labels, 746)

# panel d
field(field_d1, 1139, 774, 1183, 946)
box(1139, 774, 1205, 946)
lobe(1183, 778, 892, 20)
wall_points(1183, [814, 843, 873, 903])
rocket(rocket_d1, 1241, 1275, 758, 774, 977, 776, 848, (1231, 774, 1285, 846))
box(1227, 773, 1253, 864)
arrow(1227, 819, 1205, 819, big=False)
arrow(1110, 797, 1137, 820)
circle(1103, 788, 13)
color_bar(1143, 1273, 741, 751, bar_title, 721, bar_labels, 734)

field(field_d_fr, 1351, 824, 1379, 963)
field(field_d_re, 1407, 824, 1435, 963)
field(field_d_ir, 1462, 824, 1490, 963)
box(1351, 824, 1511, 963)
for wx, name in ((1379, "Icefr"), (1435, "Icere"), (1490, "Iceir")):
    wall_points(wx, [845, 856, 867, 878], labels=False)
    text(wx - 11, 831, name, size=15)
for bx in (1410, 1465):
    shapes.append(dict(type="path", xref="x9", yref="y9", layer="above", fillcolor="white", line=dict(width=0),
                       path=f"M {bx} 858 L {bx + 4} 855 L {bx + 19} 878 L {bx + 15} 881 Z"))
text(1338, 889, "<i>t</i>=0.11s", size=22, angle=-90)
color_bar(1368, 1492, 982, 990, "Absolute pressure(Pa)", 970, ["9.8e4", "1.02e5", "1.06e5"], 977, label_size=13, title_size=13)
# shaded window over the late part of panel d, in its own axes
shapes.append(dict(type="rect", xref="x4", yref="y4", x0=0.0915, x1=0.118, y0=97550, y1=101800, layer="below",
                   fillcolor="#e2e2e2", line=dict(color="black", width=3, dash="dot")))

for i in panel_dom:
    (tx, ty), (yx, yy) = titles[i]
    text(tx, ty, "Time(s)", size=54)
    text(yx, yy, "Absolute pressure(Pa)", size=54, angle=-90)
    tag, gx, gy = panel_tags[i]
    text(gx, gy, "(<b>" + tag + "</b>)", size=76)

fig.update_layout(
    width=W, height=H, margin=dict(l=0, r=0, t=0, b=0, autoexpand=False), paper_bgcolor="white", plot_bgcolor="rgba(0,0,0,0)",
    shapes=shapes, annotations=notes, showlegend=True, **layout_extra,
)
fig.write_html("out.html", post_script="document.body.style.margin='0';", config={"displayModeBar": False})
